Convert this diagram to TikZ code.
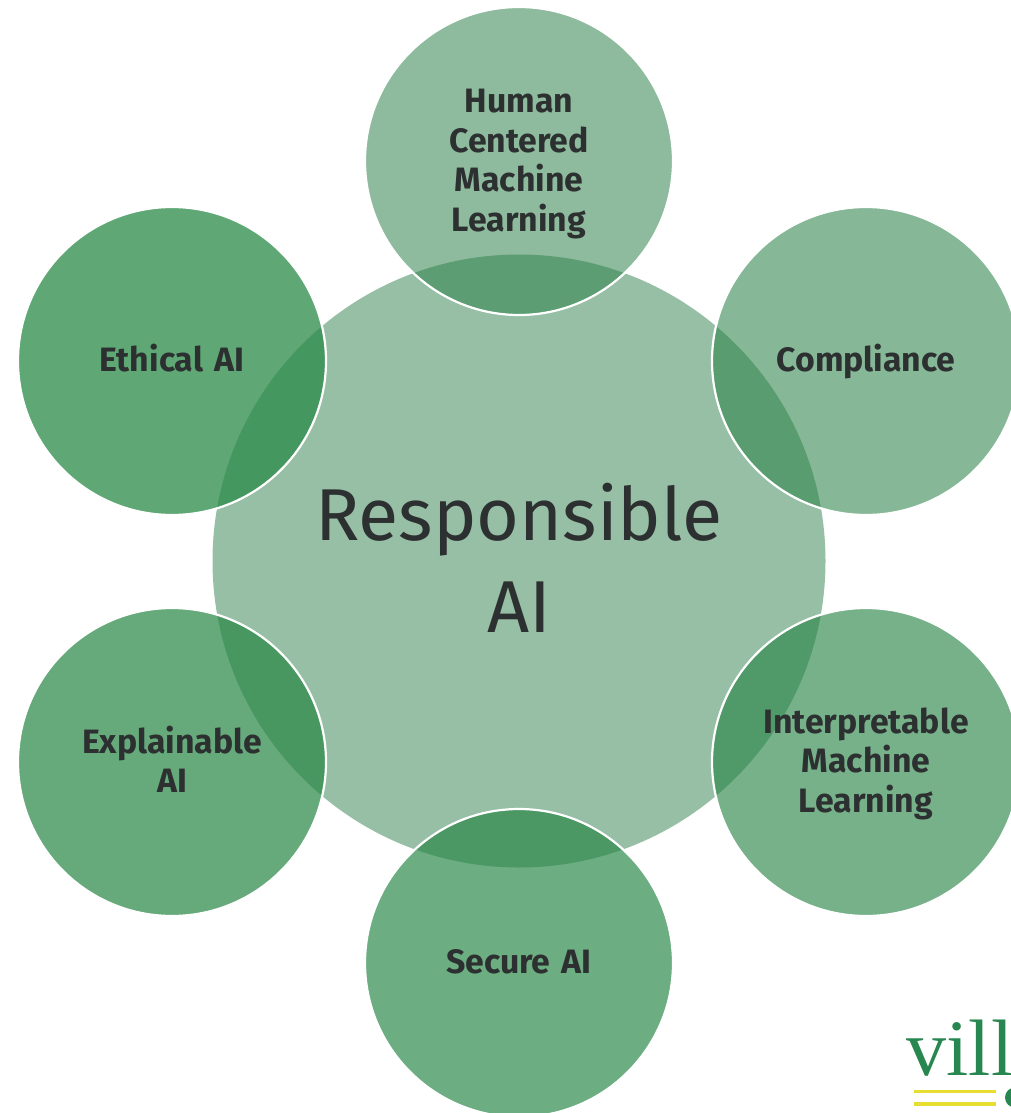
\documentclass[tikz,border=0pt]{standalone}
\usepackage{fontspec}
\setmainfont{Fira Sans}
\newfontfamily\logofont{Liberation Serif}
\definecolor{disc}{RGB}{43,125,72}
\definecolor{disctop}{RGB}{40,127,70}
\definecolor{disccomp}{RGB}{40,129,70}
\definecolor{discinterp}{RGB}{40,132,70}
\definecolor{discsec}{RGB}{40,134,70}
\definecolor{discexpl}{RGB}{40,136,70}
\definecolor{disceth}{RGB}{40,138,70}
\definecolor{ink}{RGB}{45,48,48}
\definecolor{logogreen}{RGB}{40,135,80}
\definecolor{logoyellow}{RGB}{232,222,50}
\newcommand{\lstrut}{\rule[-8.8pt]{0pt}{39.5pt}}
\tikzset{
  hub/.style={circle,minimum size=613pt,inner sep=0pt,fill=disc,fill opacity=.49,text opacity=1,text=ink,align=center,font=\fontsize{73.5}{92}\selectfont,text width=500pt},
  sat/.style={circle,minimum size=308pt,inner sep=0pt,draw=white,line width=2.2pt,text opacity=1,text=ink,align=center,text width=240pt,font=\fontsize{33.8}{39.5}\selectfont\bfseries},
}
\begin{document}
\begin{tikzpicture}[x=1pt,y=-1pt]
\useasboundingbox (0,0) rectangle (1011,1113);
\fill[white] (0,0) rectangle (1011,1113);
\node[hub] (hub) at (519,561) {Responsible\\AI\rule[-6pt]{0pt}{6pt}};
\node[sat,fill=disctop,fill opacity=.524] (top) at (519,161) {\lstrut Human\\\lstrut Centered\\\lstrut Machine\\\lstrut Learning};
\node[sat,fill=disccomp,fill opacity=.56] (comp) at (866,361) {\lstrut Compliance};
\node[sat,fill=discinterp,fill opacity=.63] (interp) at (866,762) {\lstrut Interpretable\\\lstrut Machine\\\lstrut Learning};
\node[sat,fill=discsec,fill opacity=.675] (sec) at (519,963) {\lstrut Secure AI};
\node[sat,fill=discexpl,fill opacity=.71] (expl) at (172,762) {\lstrut Explainable\\\lstrut AI};
\node[sat,fill=disceth,fill opacity=.74] (eth) at (172,361) {\lstrut Ethical AI};
\begin{scope}
\clip (880,1000) rectangle (1011,1113);
\node[anchor=base west,inner sep=0pt,text=logogreen,font=\logofont\fontsize{80}{80}\selectfont] (logo) at (906.5,1075) {ville};
\fill[logogreen] (1015,1097.5) circle (10);
\fill[logoyellow] (913.5,1089.8) rectangle (995.5,1093.2);
\fill[logoyellow] (913.5,1102.3) rectangle (995.5,1105.7);
\end{scope}
\end{tikzpicture}
\end{document}
